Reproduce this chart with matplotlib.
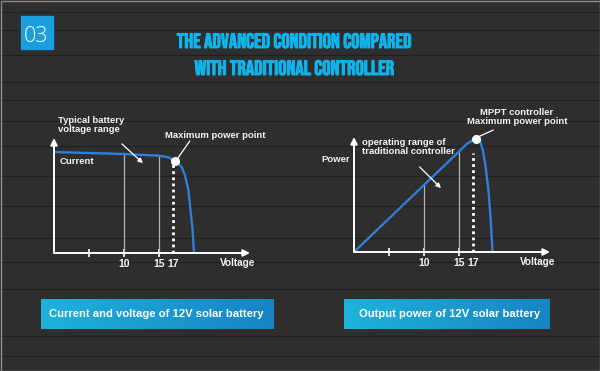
import numpy as np
import matplotlib
matplotlib.use('Agg')
import matplotlib.pyplot as plt
import matplotlib.patheffects as pe
from matplotlib.patches import Rectangle

# --- data ---
# left: current vs voltage of the panel
iv_volt = [0, 5, 10, 15.1, 16.3, 17.4, 18.2, 18.7, 19.2, 19.5, 19.8, 20.0]
iv_curr = [1.01, 1.0, 0.99, 0.973, 0.957, 0.92, 0.863, 0.78, 0.63, 0.43, 0.23, 0.0]
# right: output power vs voltage
pv_volt = [0, 10, 15.0, 16.1, 16.9, 17.4, 18.0, 18.4, 18.8, 19.2, 19.5, 19.8]
pv_pow = [0, 0.67, 1.005, 1.08, 1.115, 1.127, 1.11, 1.02, 0.853, 0.62, 0.353, 0.0]

tick_pos = [5, 10, 15, 17]
tick_lab = ['', '10', '15', '17']
range_lines = [10, 15]   # typical battery voltage range
mpp_volt = 17

title_lines = ['THE ADVANCED CONDITION COMPARED', 'WITH TRADITIONAL CONTROLLER']
box_labels = ['Current and voltage of 12V solar battery', 'Output power of 12V solar battery']

W, H = 600, 371
fig = plt.figure(figsize=(W / 100, H / 100), dpi=100)
fig.patch.set_facecolor('#2b2b2b')

# background panel in pixel units
bg = fig.add_axes([0, 0, 1, 1])
bg.set_xlim(0, W)
bg.set_ylim(H, 0)
bg.axis('off')
bg.add_patch(Rectangle((0, 0), W, H, color='#2e2e2e', zorder=0))
for y in [12, 30, 55, 82, 100, 121, 146, 176, 206, 238, 262, 289, 336, 356]:
    bg.axhline(y, color='#202020', lw=0.9, zorder=1)
bg.add_patch(Rectangle((0.5, 0.5), W - 1, H - 1, fill=False, ec='#8a8a8a', lw=1, zorder=2))

# "03" badge
bg.add_patch(Rectangle((21, 16), 32, 33, color='#1b9de0', zorder=3))
bg.text(36, 42, '03', color='white', fontsize=15.5, family='Open Sans', weight=300,
        ha='center', va='baseline', zorder=4)

# title
cyan = '#0fb4ec'
for yy, line in zip([48, 75], title_lines):
    bg.text(295, yy, line, color=cyan, fontsize=15, family='Bebas Neue',
            ha='center', va='baseline', zorder=4,
            path_effects=[pe.withStroke(linewidth=0.7, foreground=cyan)])

# gradient label boxes
grad = np.linspace(0, 1, 256).reshape(1, -1)
cmap = matplotlib.colors.LinearSegmentedColormap.from_list('box', ['#1fb2da', '#1784c4'])
for (x0, x1, tx), lab in zip([(41, 274, 49), (344, 550, 359)], box_labels):
    bg.imshow(grad, cmap=cmap, extent=(x0, x1, 329, 299), aspect='auto', zorder=3)
    bg.text(tx, 314, lab, color='white', fontsize=8.1, family='Liberation Sans',
            weight='bold', ha='left', va='center', zorder=4)
bg.set_xlim(0, W)
bg.set_ylim(H, 0)

txt = dict(color='#f2f2f2', fontsize=6.8, family='Liberation Sans', weight='bold')
blue = '#2f7fd6'
gray = '#b5b5b5'


def setup_axes(x_px, y_px):
    # x: 7 px per volt, y: 100 px per unit
    ax = fig.add_axes([x_px / W, (H - y_px) / H, 200 / W, 120 / H])
    ax.set_xlim(0, 200 / 7)
    ax.set_ylim(0, 1.2)
    ax.patch.set_alpha(0)
    for s in ax.spines.values():
        s.set_visible(False)
    ax.annotate('', xy=(28, 0), xytext=(0, 0), annotation_clip=False,
                arrowprops=dict(arrowstyle='-|>', color='white', lw=1.4, mutation_scale=10,
                                shrinkA=0, shrinkB=0))
    ax.annotate('', xy=(0, 1.15), xytext=(0, 0), annotation_clip=False,
                arrowprops=dict(arrowstyle='-|>', color='white', lw=1.4, mutation_scale=10,
                                shrinkA=0, shrinkB=0))
    ax.set_xticks(tick_pos)
    ax.set_xticklabels(tick_lab, color='#f2f2f2', fontsize=7.5, family='Liberation Sans',
                       weight='bold')
    ax.tick_params(axis='x', direction='inout', length=6, width=1.2, color='white', pad=1)
    ax.xaxis.get_major_ticks()[3].tick1line.set_visible(False)
    ax.set_yticks([])
    ax.text(23.7, -0.1, 'Voltage', va='center', ha='left',
            **{**txt, 'fontsize': 7.2})
    return ax


# left chart: current and voltage
ax1 = setup_axes(54, 253)
for v in range_lines:
    ax1.vlines(v, 0, np.interp(v, iv_volt, iv_curr), color=gray, lw=0.9)
ax1.vlines(mpp_volt, 0, 0.92, color='white', lw=2, linestyles=(0, (1, 1.2)))
ax1.plot(iv_volt, iv_curr, color=blue, lw=1.7, solid_capstyle='round')
ax1.plot([17.3], [np.interp(17.3, iv_volt, iv_curr)], 'o', color='white', ms=5.5, zorder=5)
ax1.text(0.86, 0.91, 'Current', va='center', **txt)
ax1.text(0.57, 1.28, 'Typical battery\nvoltage range', va='center', linespacing=1.1, **txt)
ax1.annotate('', xy=(13, 0.88), xytext=(9.4, 1.11), annotation_clip=False,
             arrowprops=dict(arrowstyle='-|>', color='white', lw=0.9, mutation_scale=7))
ax1.text(15.9, 1.18, 'Maximum power point', va='center', **txt)
ax1.annotate('', xy=(17.6, 0.94), xytext=(19.4, 1.12), annotation_clip=False,
             arrowprops=dict(arrowstyle='-', color='white', lw=0.9, shrinkA=0, shrinkB=0))

# right chart: output power
ax2 = setup_axes(354, 252)
for v in range_lines:
    ax2.vlines(v, 0, np.interp(v, pv_volt, pv_pow), color=gray, lw=0.9)
ax2.vlines(mpp_volt, 0, 0.99, color='white', lw=2, linestyles=(0, (1, 1.2)))
ax2.plot(pv_volt, pv_pow, color=blue, lw=1.7, solid_capstyle='round')
ax2.plot([17.4], [1.127], 'o', color='white', ms=5.5, zorder=5)
ax2.text(-4.7, 0.93, 'Power', va='center', **txt)
ax2.text(1.14, 1.05, 'operating range of\ntraditional controller', va='center',
         linespacing=1.1, **txt)
ax2.annotate('', xy=(12.7, 0.62), xytext=(9.1, 0.87), annotation_clip=False,
             arrowprops=dict(arrowstyle='-|>', color='white', lw=0.9, mutation_scale=7))
ax2.text(23.3, 1.35, 'MPPT controller\nMaximum power point', va='center', ha='center',
         linespacing=1.1, **txt)
ax2.annotate('', xy=(17.7, 1.15), xytext=(19.9, 1.22), annotation_clip=False,
             arrowprops=dict(arrowstyle='-', color='white', lw=0.9, shrinkA=0, shrinkB=0))

fig.savefig('out.png', dpi=100, facecolor=fig.get_facecolor())
